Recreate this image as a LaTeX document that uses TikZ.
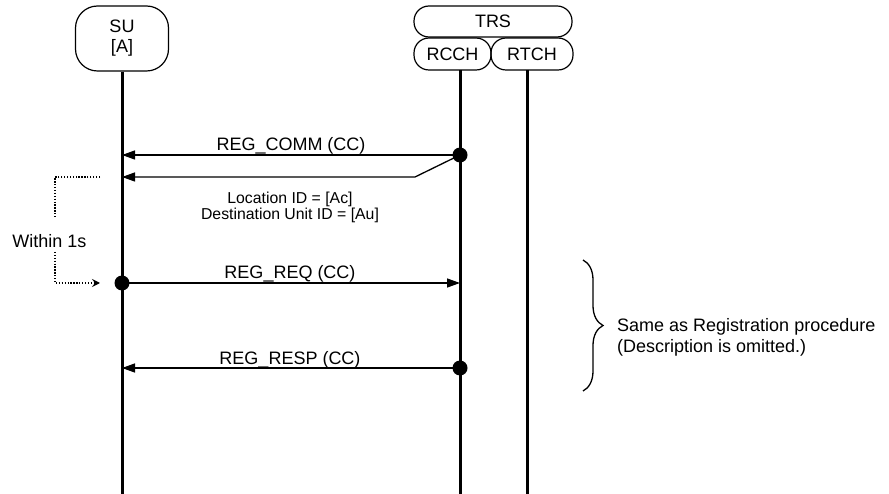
\documentclass[tikz,border=0pt]{standalone}
\usepackage{fontspec}
\setmainfont{Liberation Sans}
\usetikzlibrary{arrows.meta,decorations.pathreplacing}
\begin{document}
\begin{tikzpicture}[x=1pt,y=-1pt,
  lbl/.style={font=\fontsize{18}{21}\selectfont, inner sep=0pt, anchor=base},
  sublbl/.style={font=\fontsize{15.8}{18}\selectfont, inner sep=0pt, anchor=base},
  entbox/.style={draw, line width=1.2pt, inner sep=0pt, align=center,
    font=\fontsize{18}{19}\selectfont},
  lifeline/.style={line width=3pt},
  msg/.style={line width=1.3pt, -{Triangle[length=13pt,width=9pt]}},
  dotted line/.style={line width=1.3pt, dash pattern=on 1.3pt off 1.6pt},
  blob/.style={circle, fill=black, inner sep=0pt, minimum size=15pt},
]
\useasboundingbox (0,0) rectangle (889,494);

% entity boxes
\node[entbox, rounded corners=22pt, minimum width=93pt, minimum height=65pt] (su) at (122,38.5) {SU\\[1pt][A]};
\node[entbox, rounded corners=15pt, minimum width=158pt, minimum height=31pt] (trs) at (493,21.5) {TRS};
\node[entbox, rounded corners=15pt, minimum width=77pt, minimum height=32pt] (rcch) at (452.5,54) {RCCH};
\node[entbox, rounded corners=15pt, minimum width=82pt, minimum height=32pt] (rtch) at (532,54) {RTCH};

% lifelines
\coordinate (rcchT) at (460,70);
\coordinate (rtchT) at (527,70);
\coordinate (suE) at (122,494);
\coordinate (rcchE) at (460,494);
\coordinate (rtchE) at (527,494);
\draw[lifeline] (su.south) -- (suE);
\draw[lifeline] (rcchT) -- (rcchE);
\draw[lifeline] (rtchT) -- (rtchE);

% REG_COMM
\node[blob] (d1) at (460,155) {};
\coordinate (m1l) at (122,155);
\draw[msg] (d1.center) -- (m1l);
\node[lbl] (l1) at (291,150.8) {REG\_COMM (CC)};
\coordinate (m2k) at (415,177);
\coordinate (m2l) at (122,177);
\draw[msg] (d1.center) -- (m2k) -- (m2l);
\node[sublbl] (l2a) at (290,204) {Location ID = [Ac]};
\node[sublbl] (l2b) at (290,219.5) {Destination Unit ID = [Au]};

% Within 1s
\node[lbl] (w1) at (49.5,248) {Within 1s};
\coordinate (wa) at (100,177);
\coordinate (wb) at (55,177);
\coordinate (wc) at (55,217);
\coordinate (wd) at (55,252);
\coordinate (we) at (55,283);
\coordinate (wf) at (100,283);
\draw[dotted line] (wa) -- (wb) -- (wc);
\draw[dotted line, -{Stealth[length=8pt,width=8pt,inset=3pt]}] (wd) -- (we) -- (wf);

% REG_REQ
\node[blob] (d2) at (122,283) {};
\coordinate (m3r) at (460,283);
\draw[msg] (d2.center) -- (m3r);
\node[lbl] (l3) at (290,279) {REG\_REQ (CC)};

% REG_RESP
\node[blob] (d3) at (460,368) {};
\coordinate (m4l) at (122,368);
\draw[msg] (d3.center) -- (m4l);
\node[lbl] (l4) at (290,364.5) {REG\_RESP (CC)};

% brace
\coordinate (bt) at (583,260);
\coordinate (bb) at (583,391);
\draw[line width=1.3pt, decorate, decoration={brace, amplitude=20pt}] (bt) -- (bb);
\node[lbl, anchor=base west] (n1) at (617,331.5) {Same as Registration procedure};
\node[lbl, anchor=base west] (n2) at (617,352.5) {(Description is omitted.)};
\end{tikzpicture}
\end{document}
